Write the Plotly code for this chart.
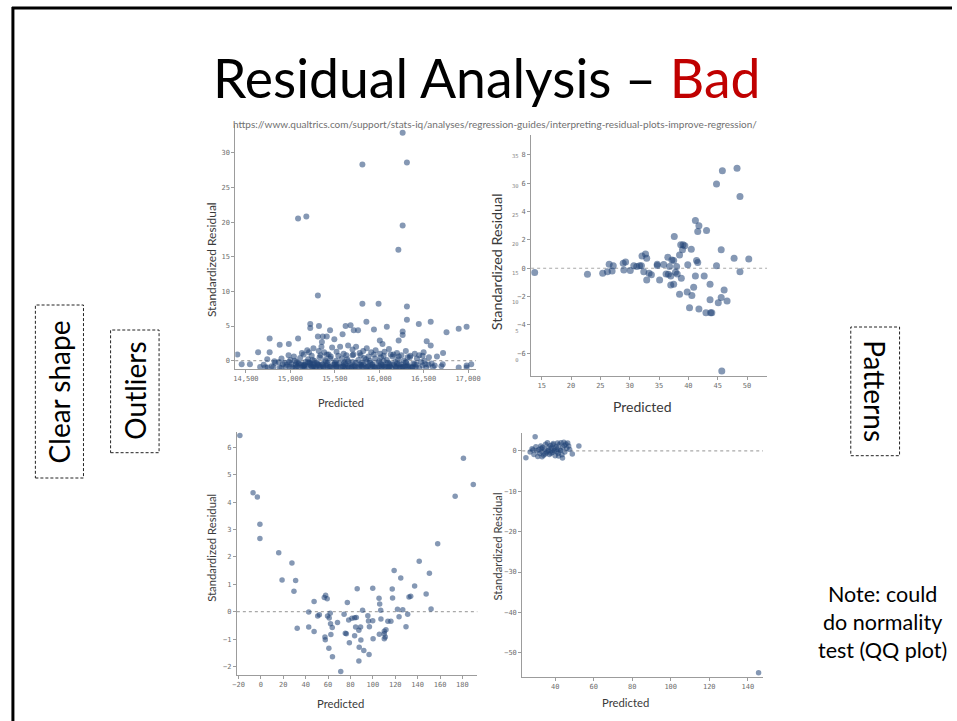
import plotly.graph_objects as go

W, H = 957, 721

# ---------------- data ----------------
# Panel 1: outliers (large predicted values around 14,500-17,000)
p1_pred = [
    16264, 15811, 16312, 15087, 15180, 16264, 16216, 15310, 15811, 15993,
    16312, 16312, 15224, 15224, 15322, 15447, 15622, 15678, 15714, 15762,
    15856, 15941, 16086, 16264, 16264, 16446, 16580, 16758, 16895, 16984,
    14767, 14983, 15087, 14880, 15310, 15365, 15410, 15355, 15495, 15588,
    16007, 16037, 16219, 16535, 16580, 14404, 14452, 14545, 14637, 14767,
    16895, 16984, 16984, 17036, 16715, 16700, 16605, 16719, 16488, 16650,
    14660, 14700, 14745, 14790, 14830, 14880, 14915, 14950, 14985, 15020,
    15055, 15090, 15120, 15150, 15185, 15215, 15250, 15280, 15310, 15345,
    15375, 15405, 15440, 15470, 15500, 15535, 15565, 15595, 15625, 15660,
    15690, 15720, 15755, 15785, 15815, 15850, 15880, 15910, 15945, 15975,
    16005, 16040, 16070, 16100, 16135, 16165, 16195, 16230, 16260, 16290,
    16330, 16370, 16410, 16450, 16490, 16530, 14870, 15000, 15170, 15260,
    14900, 14940, 15010, 15070, 15110, 15160, 15200, 15235, 15270, 15300,
    15330, 15360, 15390, 15420, 15455, 15485, 15515, 15550, 15580, 15610,
    15640, 15670, 15700, 15735, 15765, 15800, 15830, 15860, 15895, 15925,
    15955, 15990, 16020, 16055, 16085, 16115, 16150, 16180, 16210, 16245,
    16275, 16305, 16345, 16385, 16425, 16470, 16510, 16555, 16590, 16625,
    15130, 15190, 15260, 15320, 15380, 15430, 15470, 15520, 15560, 15600,
    15650, 15700, 15740, 15780, 15820, 15860, 15910, 15960, 16010, 16060,
    16110, 16160, 16200, 16250, 16300, 16350, 16400, 16450, 16500, 16560,
    14980, 15040, 15150, 15240, 15340, 15410, 15540, 15630, 15710, 15790,
    15880, 15940, 16050, 16130, 16220, 16320, 14740, 14820, 15210, 15350,
    15080, 15140, 15230, 15290, 15370, 15450, 15520, 15590, 15650, 15730,
    15800, 15870, 15930, 16000, 16060, 16120, 16180, 16250, 16310, 16380,
    15100, 15200, 15300, 15400, 15500, 15600, 15700, 15800, 15900, 16000,
    16100, 16200, 16300, 16400, 15050, 15250, 15450, 15650, 15850, 16050,
    14720, 14810, 14900, 14990, 15060, 15160, 15240, 15330, 15420, 15510,
    15610, 15690, 15780, 15860, 15950, 16030, 16110, 16190, 16270, 16350,
    15120, 15220, 15320, 15420, 15520, 15620, 15720, 15820, 15920, 16020,
    16120, 16220, 16320, 16420, 16520, 14960, 15060, 15160, 15260, 15360,
]
p1_resid = [
    32.9, 28.3, 28.6, 20.5, 20.8, 19.5, 16.0, 9.4, 8.2, 8.2,
    7.8, 5.9, 5.3, 4.7, 5.0, 4.4, 5.0, 5.1, 4.4, 4.4,
    5.6, 4.5, 4.9, 4.2, 3.7, 5.3, 5.6, 4.1, 4.6, 4.9,
    3.2, 2.4, 3.2, 2.3, 3.5, 3.5, 3.5, 2.7, 3.1, 3.8,
    2.9, 2.4, 2.9, 2.8, 2.2, 0.9, -0.5, -0.5, 1.2, 1.2,
    -1.0, -1.0, -0.7, -0.5, -0.5, -0.8, -0.9, 1.1, 0.7, 0.6,
    -0.9, -0.6, -1.0, -0.8, -0.3, -1.0, -0.5, -0.9, -0.2, -0.95,
    -1.05, -0.4, -1.0, -0.7, -0.9, -0.3, -0.95, -1.05, -0.6, -1.0,
    -0.95, -0.7, -0.9, -1.05, -0.5, -1.0, -0.9, -0.8, -1.05, -1.0,
    -0.9, -0.95, -1.0, -0.6, -0.9, -1.0, -0.75, -1.0, -0.9, -1.05,
    -0.95, -0.7, -0.9, -0.95, -1.0, -0.6, -0.9, -1.0, -0.95, -0.8,
    -0.9, -1.0, -0.95, -1.05, -0.7, -1.0, -0.2, 0.1, -0.2, -0.8,
    0.3, -0.3, -0.5, -0.2, 0.4, -0.6, 0.2, -0.4, 0.0, -0.3,
    0.5, -0.5, 0.1, -0.3, 0.6, -0.6, 0.0, -0.4, 0.3, -0.2,
    0.2, -0.5, 0.8, -0.3, 0.1, -0.6, 0.4, -0.2, 0.0, -0.5,
    0.3, -0.3, 0.5, -0.6, 0.1, -0.4, 0.6, -0.2, 0.2, -0.5,
    0.0, -0.3, 0.5, -0.4, 0.3, -0.2, 0.0, -0.6, -0.4, -0.7,
    1.1, 1.5, 1.8, 1.4, 1.2, 0.9, 1.9, 1.3, 2.0, 1.0,
    2.2, 1.6, 2.0, 1.1, 1.4, 1.8, 1.2, 1.5, 1.0, 1.3,
    1.7, 0.9, 1.1, 0.8, 1.4, 0.7, 1.0, 0.8, 1.2, 0.5,
    0.8, 0.6, 0.9, 0.7, 0.8, 0.9, 0.7, 0.8, 0.9, 0.8,
    0.6, 0.9, 0.7, 0.9, 0.6, 0.5, 0.2, -0.1, 1.2, 2.0,
    -0.8, -0.9, -0.7, -0.85, -0.8, -0.9, -0.85, -0.9, -0.8, -0.85,
    -0.8, -0.9, -0.85, -0.8, -0.9, -0.85, -0.8, -0.9, -0.85, -0.9,
    -0.4, -0.2, -0.45, -0.1, -0.3, -0.45, -0.2, -0.35, -0.3, -0.1,
    -0.3, -0.4, -0.2, -0.5, 0.0, 0.1, 0.3, -0.1, 0.2, 0.0,
    -0.95, -0.9, -1.0, -0.85, -0.95, -1.0, -0.9, -0.95, -1.0, -0.9,
    -0.95, -1.0, -0.9, -0.95, -1.0, -0.9, -0.95, -1.0, -0.9, -0.95,
    -0.6, -0.5, -0.65, -0.55, -0.6, -0.5, -0.65, -0.55, -0.6, -0.5,
    -0.6, -0.55, -0.65, -0.6, -0.5, -0.6, -0.55, -0.65, -0.5, -0.6,
]

# Panel 2: fan-shaped spread
p2_pred = [
    13.8, 22.8, 25.4, 26.2, 26.5, 27.0, 27.2, 28.9, 29.0, 29.3,
    30.1, 30.7, 31.2, 31.7, 32.0, 32.1, 32.7, 32.4, 32.9, 32.9,
    33.3, 33.7, 34.7, 34.7, 35.1, 35.8, 36.2, 36.5, 36.6, 36.8,
    37.0, 37.2, 37.0, 37.5, 37.5, 37.6, 37.8, 38.0, 38.1, 38.5,
    38.5, 38.7, 38.8, 39.1, 39.4, 39.0, 39.9, 39.8, 40.5, 40.6,
    40.2, 40.9, 41.2, 41.2, 41.4, 41.6, 41.8, 41.6, 41.8, 42.7,
    43.1, 43.0, 43.7, 43.7, 43.8, 44.0, 44.8, 44.8, 45.1, 45.6,
    45.6, 45.7, 45.8, 46.1, 46.6, 47.8, 48.3, 48.8, 48.8, 50.3,
]
p2_resid = [
    -0.30, -0.42, -0.35, -0.24, 0.28, -0.19, 0.17, 0.35, -0.12, 0.45,
    -0.16, 0.17, 0.12, 0.17, 0.17, 0.87, 1.00, -0.24, 0.71, -0.83,
    -0.35, -0.45, 0.19, 0.28, -0.83, 0.26, -0.40, 0.78, -0.42, 0.12,
    -0.54, 0.59, -1.18, -1.13, 0.54, 2.24, -0.28, 0.12, -0.40, 0.94,
    -1.84, 1.65, -0.71, 1.65, 1.58, 1.30, 0.24, -1.67, 1.34, -1.93,
    -2.78, -1.34, 3.37, -0.54, 0.54, 0.40, 2.99, 2.59, -2.88, -0.54,
    2.66, -3.13, -1.13, -2.22, -3.13, -3.13, 5.94, 0.17, -2.43, 1.30,
    -2.07, -7.24, 6.88, -1.53, -2.31, 0.71, 7.05, -0.24, 5.07, 0.66,
]
p2_alt_ticks = [0, 5, 10, 15, 20, 25, 30, 35]

# Panel 3: U-shaped residuals
p3_pred = [
    -18.8, -7.0, -3.2, -0.9, -0.9, 15.9, 18.9, 27.7, 31.0, 29.5,
    32.4, 42.7, 42.7, 47.5, 47.5, 50.7, 52.2, 56.6, 57.8, 59.2,
    57.2, 57.5, 59.5, 61.0, 60.7, 61.9, 62.2, 62.5, 63.7, 63.9,
    68.4, 74.3, 75.4, 76.3, 77.2, 78.4, 79.0, 81.3, 83.7, 85.2,
    71.3, 83.7, 84.6, 86.0, 87.5, 87.8, 87.5, 89.0, 89.3, 90.8,
    91.9, 95.5, 96.1, 96.9, 96.6, 99.9, 99.9, 100.2, 105.5, 106.1,
    107.0, 107.2, 105.8, 110.2, 110.2, 110.2, 111.1, 111.7, 113.4, 116.1,
    117.3, 117.6, 119.0, 122.0, 123.4, 124.9, 126.7, 129.6, 131.1, 132.3,
    133.8, 137.3, 141.4, 147.6, 150.5, 152.0, 157.9, 173.5, 180.9, 189.7,
]
p3_resid = [
    6.43, 4.34, 4.19, 3.19, 2.67, 2.15, 1.16, 1.78, 1.14, 0.75,
    -0.60, -0.01, -0.56, 0.37, -0.72, -0.16, -0.11, 0.52, 0.60, 0.47,
    -0.92, -1.02, -0.16, -0.23, -1.33, -0.06, -0.44, -0.83, -0.58, -1.64,
    -0.39, -0.09, -0.79, -0.80, 0.34, -0.30, -1.13, -0.24, -0.22, -0.21,
    -2.18, -0.88, -0.56, 0.84, -0.68, -1.30, -1.80, -0.56, -1.03, 0.05,
    -1.42, -0.15, -0.34, -0.55, -1.56, 0.86, -0.33, -0.99, 0.49, 0.28,
    0.05, -0.27, -0.82, -0.71, -0.80, -0.99, -0.92, -0.66, -0.35, -0.35,
    0.83, 0.50, 1.50, 0.09, -0.18, 1.23, 0.07, -0.55, -0.09, 0.54,
    0.56, 0.94, 1.84, 0.65, 1.40, 0.10, 2.48, 4.21, 5.60, 4.64,
]

# Panel 4: tight cluster plus one extreme point
p4_pred = [
    24.8, 29.6, 52.3, 48.9, 145.6, 27.0, 28.0, 29.0, 30.0, 31.0,
    31.5, 32.0, 32.5, 33.0, 33.5, 34.0, 34.5, 35.0, 35.5, 36.0,
    36.5, 37.0, 37.5, 38.0, 38.5, 39.0, 39.5, 40.0, 40.5, 41.0,
    41.5, 42.0, 42.5, 43.0, 43.5, 44.0, 44.5, 45.0, 45.5, 46.0,
    46.5, 47.0, 47.5, 30.5, 33.2, 35.8, 37.8, 39.8, 41.8, 43.8,
    28.5, 32.8, 34.8, 36.8, 38.8, 40.8, 42.8, 44.8, 38.2, 41.2,
]
p4_resid = [
    -1.7, 3.5, 1.2, -0.8, -54.9, -0.3, 0.5, -0.9, 1.0, -1.4,
    0.3, -0.7, 1.2, -0.2, 0.8, -1.1, 0.4, 1.6, -0.5, 2.0,
    0.1, -0.9, 1.3, 0.6, -0.4, 1.8, 0.0, -1.2, 1.0, 0.4,
    -0.6, 1.5, 0.2, 2.0, -1.0, 0.9, 2.1, -0.3, 1.7, 0.6,
    1.9, 1.2, 0.3, 0.0, -1.5, -0.1, -0.6, 0.7, -1.3, -1.8,
    0.2, 0.6, -0.8, 0.9, 1.5, -0.2, 0.1, 1.3, 0.0, 1.9,
]

# ---------------- helpers (pixel -> paper) ----------------
def fx(px):
    return px / W


def fy(py):
    return 1 - py / H


TICK_FONT = dict(family="DejaVu Sans Mono", size=7, color="#6e6e6e")
AX_COLOR = "#9c9c9c"
MARKER = dict(color="rgb(32,68,118)", opacity=0.55, line=dict(width=0))


def axis(domain_px, rng, tickvals, anchor, tickformat=None, vertical=False, tickfont=None):
    if vertical:
        dom = [fy(domain_px[1]), fy(domain_px[0])]
    else:
        dom = [fx(domain_px[0]), fx(domain_px[1])]
    d = dict(
        domain=dom, range=rng, anchor=anchor, tickvals=tickvals,
        showline=True, linecolor=AX_COLOR, linewidth=1,
        ticks="outside", ticklen=3, tickcolor=AX_COLOR, tickwidth=1,
        tickfont=tickfont or TICK_FONT, showgrid=False, zeroline=False,
        fixedrange=True,
    )
    if tickformat:
        d["tickformat"] = tickformat
    return d


fig = go.Figure()

panels = [
    ("x", "y", p1_pred, p1_resid, 6),
    ("x2", "y2", p2_pred, p2_resid, 7),
    ("x3", "y3", p3_pred, p3_resid, 5.5),
    ("x4", "y4", p4_pred, p4_resid, 5.5),
]
for xa, ya, xs, ys, sz in panels:
    fig.add_trace(go.Scatter(
        x=xs, y=ys, mode="markers", xaxis=xa, yaxis=ya,
        marker=dict(size=sz, **MARKER), showlegend=False, hoverinfo="skip",
    ))

# second, faint tick scale drawn on the upper-right panel
fig.add_trace(go.Scatter(x=[], y=[], xaxis="x2", yaxis="y5", showlegend=False, hoverinfo="skip"))

layout_axes = dict(
    xaxis=axis((232.7, 476), [14380, 17090], [14500, 15000, 15500, 16000, 16500, 17000], "y", tickformat=",d"),
    yaxis=axis((125, 369), [-1.2, 34], [0, 5, 10, 15, 20, 25, 30], "x", vertical=True),
    xaxis2=axis((531.7, 770), [13.2, 53.4], [15, 20, 25, 30, 35, 40, 45, 50], "y2"),
    yaxis2=axis((135, 376), [-7.6, 9.4], [-6, -4, -2, 0, 2, 4, 6, 8], "x2", vertical=True),
    xaxis3=axis((234.3, 477.3), [-21.5, 193.3], list(range(-20, 181, 20)), "y3"),
    yaxis3=axis((431.7, 675), [-2.31, 6.57], [-2, -1, 0, 1, 2, 3, 4, 5, 6], "x3", vertical=True),
    xaxis4=axis((522.7, 766), [22.9, 147.9], [40, 60, 80, 100, 120, 140], "y4"),
    yaxis4=axis((433, 676.7), [-55.9, 4.4], [-50, -40, -30, -20, -10, 0], "x4", vertical=True),
)
layout_axes["yaxis5"] = dict(
    overlaying="y2", anchor="free", position=fx(519), side="left",
    range=[-2.75, 38.7], tickvals=p2_alt_ticks, showline=False, ticks="",
    showgrid=False, zeroline=False, fixedrange=True,
    tickfont=dict(family="DejaVu Sans Mono", size=5.5, color="#8a8a8a"),
)

# dotted zero reference lines
shapes = []
for xa, ya in [("x", "y"), ("x2", "y2"), ("x3", "y3"), ("x4", "y4")]:
    shapes.append(dict(
        type="line", xref=f"{xa} domain", yref=ya, x0=0, x1=1, y0=0, y1=0,
        line=dict(color="#a9a9a9", width=1.2, dash="dot"), layer="below",
    ))

# slide frame
shapes.append(dict(type="line", xref="paper", yref="paper", x0=fx(7), x1=1, y0=fy(8), y1=fy(8),
                   line=dict(color="black", width=3)))
shapes.append(dict(type="line", xref="paper", yref="paper", x0=fx(8), x1=fx(8), y0=fy(7), y1=0,
                   line=dict(color="black", width=3)))

# dashed label boxes
for x0, y0, x1, y1 in [(30.7, 305, 79.3, 478), (106.7, 330, 155.7, 452.7), (854.7, 327, 904, 455.7)]:
    shapes.append(dict(type="rect", xref="paper", yref="paper",
                       x0=fx(x0), x1=fx(x1), y0=fy(y1), y1=fy(y0),
                       line=dict(color="#222222", width=1, dash="3px,2px")))

SLIDE_FONT = "Lato"
TITLE_COLOR = "#3a3a3a"


def ann(text, px, py, size, color="black", angle=0, family=SLIDE_FONT):
    return dict(text=text, x=fx(px), y=fy(py), xref="paper", yref="paper",
                xanchor="center", yanchor="middle", showarrow=False, textangle=angle,
                font=dict(family=family, size=size, color=color))


annotations = [
    ann("Residual Analysis – <span style='color:#c00000'>Bad</span>", 487.5, 77, 53.5),
    ann("https://www.qualtrics.com/support/stats-iq/analyses/regression-guides/interpreting-residual-plots-improve-regression/",
        495, 124, 10, color="#707070"),
    # axis titles
    ann("Standardized Residual", 208.3, 260, 12, TITLE_COLOR, -90),
    ann("Predicted", 340, 402, 11, TITLE_COLOR),
    ann("Standardized Residual", 496.7, 261.7, 14.3, TITLE_COLOR, -90),
    ann("Predicted", 644.7, 406, 14, TITLE_COLOR),
    ann("Standardized Residual", 209.3, 547.7, 11.3, TITLE_COLOR, -90),
    ann("Predicted", 339.3, 703.3, 11.3, TITLE_COLOR),
    ann("Standardized Residual", 496.7, 547, 11.3, TITLE_COLOR, -90),
    ann("Predicted", 627, 702.7, 11.3, TITLE_COLOR),
    # side labels
    ann("Clear shape", 55, 392, 28, angle=-90),
    ann("Outliers", 131, 391, 28, angle=-90),
    ann("Patterns", 879, 391, 28, angle=90),
    ann("Note: could<br>do normality<br>test (QQ plot)", 887, 622, 21.5),
]

fig.update_layout(
    width=W, height=H,
    margin=dict(l=0, r=0, t=0, b=0),
    paper_bgcolor="white", plot_bgcolor="white",
    shapes=shapes, annotations=annotations,
    **layout_axes,
)

fig.write_html("out.html")
